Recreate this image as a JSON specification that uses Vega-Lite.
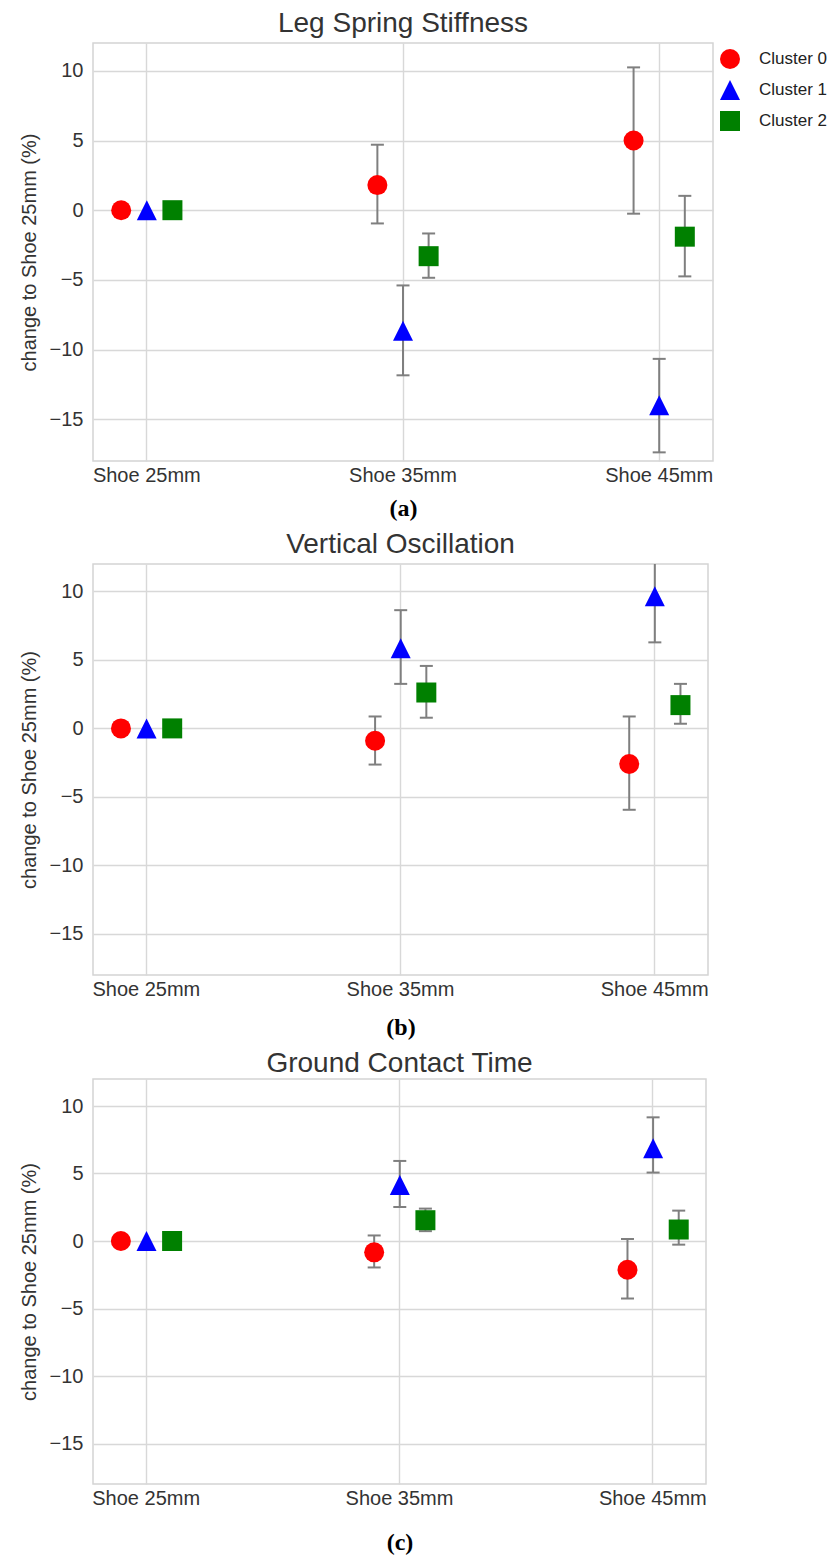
{
  "$schema": "https://vega.github.io/schema/vega-lite/v6.json",
  "background": "white",
  "padding": {"left": 18, "top": 9, "right": 0, "bottom": 5},
  "spacing": 9,
  "config": {
    "font": "Liberation Sans",
    "view": {"stroke": "#d4d4d4", "strokeWidth": 1.5},
    "axis": {
      "labelFont": "Liberation Sans",
      "labelFontSize": 20,
      "labelColor": "#333333",
      "titleFont": "Liberation Sans",
      "titleFontSize": 20,
      "titleFontWeight": "normal",
      "titleColor": "#333333",
      "grid": true,
      "gridColor": "#d8d8d8",
      "gridWidth": 1.4,
      "ticks": false,
      "domain": false
    },
    "title": {"font": "Liberation Sans", "fontSize": 28, "fontWeight": "normal", "color": "#333333", "offset": 5}
  },
  "data": {
    "values": [
      {"panel": "a", "shoe": "Shoe 25mm", "cluster": "Cluster 0", "mean": 0, "lo": null, "hi": null},
      {"panel": "a", "shoe": "Shoe 25mm", "cluster": "Cluster 1", "mean": 0, "lo": null, "hi": null},
      {"panel": "a", "shoe": "Shoe 25mm", "cluster": "Cluster 2", "mean": 0, "lo": null, "hi": null},
      {"panel": "a", "shoe": "Shoe 35mm", "cluster": "Cluster 0", "mean": 1.8, "lo": -0.95, "hi": 4.7},
      {"panel": "a", "shoe": "Shoe 35mm", "cluster": "Cluster 1", "mean": -8.65, "lo": -11.85, "hi": -5.4},
      {"panel": "a", "shoe": "Shoe 35mm", "cluster": "Cluster 2", "mean": -3.3, "lo": -4.85, "hi": -1.67},
      {"panel": "a", "shoe": "Shoe 45mm", "cluster": "Cluster 0", "mean": 5.0, "lo": -0.25, "hi": 10.25},
      {"panel": "a", "shoe": "Shoe 45mm", "cluster": "Cluster 1", "mean": -14.0, "lo": -17.38, "hi": -10.67},
      {"panel": "a", "shoe": "Shoe 45mm", "cluster": "Cluster 2", "mean": -1.9, "lo": -4.75, "hi": 1.03},
      {"panel": "b", "shoe": "Shoe 25mm", "cluster": "Cluster 0", "mean": 0, "lo": null, "hi": null},
      {"panel": "b", "shoe": "Shoe 25mm", "cluster": "Cluster 1", "mean": 0, "lo": null, "hi": null},
      {"panel": "b", "shoe": "Shoe 25mm", "cluster": "Cluster 2", "mean": 0, "lo": null, "hi": null},
      {"panel": "b", "shoe": "Shoe 35mm", "cluster": "Cluster 0", "mean": -0.9, "lo": -2.64, "hi": 0.87},
      {"panel": "b", "shoe": "Shoe 35mm", "cluster": "Cluster 1", "mean": 5.85, "lo": 3.25, "hi": 8.63},
      {"panel": "b", "shoe": "Shoe 35mm", "cluster": "Cluster 2", "mean": 2.62, "lo": 0.78, "hi": 4.56},
      {"panel": "b", "shoe": "Shoe 45mm", "cluster": "Cluster 0", "mean": -2.6, "lo": -5.94, "hi": 0.87},
      {"panel": "b", "shoe": "Shoe 45mm", "cluster": "Cluster 1", "mean": 9.65, "lo": 6.28, "hi": 13.0},
      {"panel": "b", "shoe": "Shoe 45mm", "cluster": "Cluster 2", "mean": 1.7, "lo": 0.34, "hi": 3.25},
      {"panel": "c", "shoe": "Shoe 25mm", "cluster": "Cluster 0", "mean": 0, "lo": null, "hi": null},
      {"panel": "c", "shoe": "Shoe 25mm", "cluster": "Cluster 1", "mean": 0, "lo": null, "hi": null},
      {"panel": "c", "shoe": "Shoe 25mm", "cluster": "Cluster 2", "mean": 0, "lo": null, "hi": null},
      {"panel": "c", "shoe": "Shoe 35mm", "cluster": "Cluster 0", "mean": -0.84, "lo": -1.96, "hi": 0.41},
      {"panel": "c", "shoe": "Shoe 35mm", "cluster": "Cluster 1", "mean": 4.15, "lo": 2.52, "hi": 5.93},
      {"panel": "c", "shoe": "Shoe 35mm", "cluster": "Cluster 2", "mean": 1.54, "lo": 0.73, "hi": 2.4},
      {"panel": "c", "shoe": "Shoe 45mm", "cluster": "Cluster 0", "mean": -2.13, "lo": -4.26, "hi": 0.15},
      {"panel": "c", "shoe": "Shoe 45mm", "cluster": "Cluster 1", "mean": 6.87, "lo": 5.07, "hi": 9.16},
      {"panel": "c", "shoe": "Shoe 45mm", "cluster": "Cluster 2", "mean": 0.85, "lo": -0.27, "hi": 2.25}
    ]
  },
  "resolve": {
    "scale": {"color": "independent", "shape": "independent", "fill": "independent"},
    "legend": {"color": "independent", "shape": "independent", "fill": "independent"}
  },
  "vconcat": [
    {
      "title": {"text": "Leg Spring Stiffness"},
      "width": 620,
      "height": 418,
      "transform": [{"filter": "datum.panel === 'a'"}],
      "encoding": {
        "x": {"field": "shoe", "type": "nominal", "scale": {"type": "band", "paddingInner": 0.8, "paddingOuter": 0.11},
          "axis": {"labelAngle": 0, "labelPadding": 4, "bandPosition": 0.5, "title": "(a)", "titleFont": "Liberation Serif", "titleFontSize": 24, "titleFontWeight": "bold", "titleColor": "#000000", "titlePadding": 11}},
        "xOffset": {"field": "cluster", "type": "nominal", "scale": {"type": "point", "padding": 0}}
      },
      "layer": [
        {"mark": {"type": "rule", "color": "#7f7f7f", "strokeWidth": 2, "clip": true},
          "encoding": {"y": {"field": "lo", "type": "quantitative", "scale": {"domain": [-18, 12], "nice": false}, "axis": {"values": [-15, -10, -5, 0, 5, 10], "title": "change to Shoe 25mm (%)", "labelPadding": 10, "titlePadding": 10}}, "y2": {"field": "hi"}}},
        {"mark": {"type": "tick", "color": "#7f7f7f", "thickness": 2, "size": 13, "opacity": 1, "clip": true},
          "encoding": {"y": {"field": "lo", "type": "quantitative"}}},
        {"mark": {"type": "tick", "color": "#7f7f7f", "thickness": 2, "size": 13, "opacity": 1, "clip": true},
          "encoding": {"y": {"field": "hi", "type": "quantitative"}}},
        {"mark": {"type": "point", "filled": true, "size": 400, "opacity": 1},
          "encoding": {
            "y": {"field": "mean", "type": "quantitative"},
            "shape": {"field": "cluster", "type": "nominal", "scale": {"domain": ["Cluster 0", "Cluster 1", "Cluster 2"], "range": ["circle", "M0,-1L-1,1L1,1Z", "square"]},
              "legend": {"title": null, "orient": "none", "legendX": 627, "legendY": 6, "labelFont": "Liberation Sans", "labelFontSize": 17, "labelColor": "#222222", "symbolSize": 400, "rowPadding": 11, "labelOffset": 19, "symbolOpacity": 1, "symbolStrokeWidth": 0}},
            "color": {"field": "cluster", "type": "nominal", "scale": {"domain": ["Cluster 0", "Cluster 1", "Cluster 2"], "range": ["#ff0000", "#0070c0", "#00b050"]},
              "legend": {"title": null, "orient": "none", "legendX": 627, "legendY": 6, "labelFont": "Liberation Sans", "labelFontSize": 17, "labelColor": "#222222", "symbolSize": 400, "rowPadding": 11, "labelOffset": 19, "symbolOpacity": 1, "symbolStrokeWidth": 0}},
            "fill": {"field": "cluster", "type": "nominal", "scale": {"domain": ["Cluster 0", "Cluster 1", "Cluster 2"], "range": ["#ff0000", "#0000ff", "#008000"]}, "legend": null}
          }}
      ]
    },
    {
      "title": {"text": "Vertical Oscillation"},
      "width": 615,
      "height": 411,
      "transform": [{"filter": "datum.panel === 'b'"}],
      "encoding": {
        "x": {"field": "shoe", "type": "nominal", "scale": {"type": "band", "paddingInner": 0.8, "paddingOuter": 0.11},
          "axis": {"labelAngle": 0, "labelPadding": 4, "bandPosition": 0.5, "title": "(b)", "titleFont": "Liberation Serif", "titleFontSize": 24, "titleFontWeight": "bold", "titleColor": "#000000", "titlePadding": 16}},
        "xOffset": {"field": "cluster", "type": "nominal", "scale": {"type": "point", "padding": 0}}
      },
      "layer": [
        {"mark": {"type": "rule", "color": "#7f7f7f", "strokeWidth": 2, "clip": true},
          "encoding": {"y": {"field": "lo", "type": "quantitative", "scale": {"domain": [-18, 12], "nice": false}, "axis": {"values": [-15, -10, -5, 0, 5, 10], "title": "change to Shoe 25mm (%)", "labelPadding": 10, "titlePadding": 10}}, "y2": {"field": "hi"}}},
        {"mark": {"type": "tick", "color": "#7f7f7f", "thickness": 2, "size": 13, "opacity": 1, "clip": true},
          "encoding": {"y": {"field": "lo", "type": "quantitative"}}},
        {"mark": {"type": "tick", "color": "#7f7f7f", "thickness": 2, "size": 13, "opacity": 1, "clip": true},
          "encoding": {"y": {"field": "hi", "type": "quantitative"}}},
        {"mark": {"type": "point", "filled": true, "size": 400, "opacity": 1},
          "encoding": {
            "y": {"field": "mean", "type": "quantitative"},
            "shape": {"field": "cluster", "type": "nominal", "scale": {"domain": ["Cluster 0", "Cluster 1", "Cluster 2"], "range": ["circle", "M0,-1L-1,1L1,1Z", "square"]}, "legend": null},
            "fill": {"field": "cluster", "type": "nominal", "scale": {"domain": ["Cluster 0", "Cluster 1", "Cluster 2"], "range": ["#ff0000", "#0000ff", "#008000"]}, "legend": null}
          }}
      ]
    },
    {
      "title": {"text": "Ground Contact Time", "offset": 1},
      "width": 613,
      "height": 405,
      "transform": [{"filter": "datum.panel === 'c'"}],
      "encoding": {
        "x": {"field": "shoe", "type": "nominal", "scale": {"type": "band", "paddingInner": 0.8, "paddingOuter": 0.11},
          "axis": {"labelAngle": 0, "labelPadding": 4, "bandPosition": 0.5, "title": "(c)", "titleFont": "Liberation Serif", "titleFontSize": 24, "titleFontWeight": "bold", "titleColor": "#000000", "titlePadding": 22}},
        "xOffset": {"field": "cluster", "type": "nominal", "scale": {"type": "point", "padding": 0}}
      },
      "layer": [
        {"mark": {"type": "rule", "color": "#7f7f7f", "strokeWidth": 2, "clip": true},
          "encoding": {"y": {"field": "lo", "type": "quantitative", "scale": {"domain": [-18, 12], "nice": false}, "axis": {"values": [-15, -10, -5, 0, 5, 10], "title": "change to Shoe 25mm (%)", "labelPadding": 10, "titlePadding": 10}}, "y2": {"field": "hi"}}},
        {"mark": {"type": "tick", "color": "#7f7f7f", "thickness": 2, "size": 13, "opacity": 1, "clip": true},
          "encoding": {"y": {"field": "lo", "type": "quantitative"}}},
        {"mark": {"type": "tick", "color": "#7f7f7f", "thickness": 2, "size": 13, "opacity": 1, "clip": true},
          "encoding": {"y": {"field": "hi", "type": "quantitative"}}},
        {"mark": {"type": "point", "filled": true, "size": 400, "opacity": 1},
          "encoding": {
            "y": {"field": "mean", "type": "quantitative"},
            "shape": {"field": "cluster", "type": "nominal", "scale": {"domain": ["Cluster 0", "Cluster 1", "Cluster 2"], "range": ["circle", "M0,-1L-1,1L1,1Z", "square"]}, "legend": null},
            "fill": {"field": "cluster", "type": "nominal", "scale": {"domain": ["Cluster 0", "Cluster 1", "Cluster 2"], "range": ["#ff0000", "#0000ff", "#008000"]}, "legend": null}
          }}
      ]
    }
  ]
}
